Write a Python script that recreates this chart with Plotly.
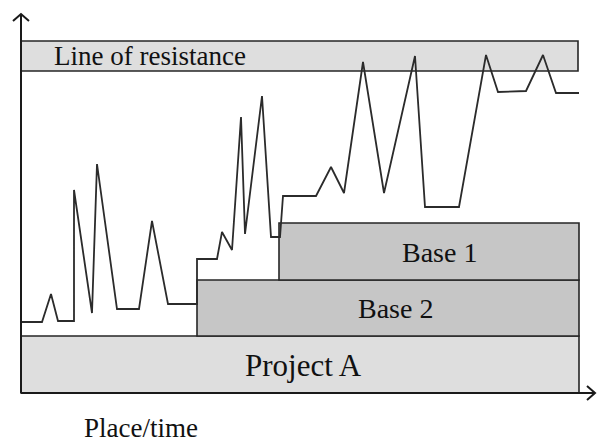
import plotly.graph_objects as go

# ---- data (place/time units, level units; origin at axes corner) ----
t = [0, 21, 30, 37, 53, 53, 71, 76, 96, 118, 131, 147, 176, 176, 196, 201, 211, 220,
     224, 241, 250, 259, 262, 295, 310, 323, 342, 363, 394, 404, 438, 465, 477, 505,
     522, 535, 558]
level = [71, 71, 99, 72, 72, 203, 80, 229, 84, 84, 172, 89, 89, 134, 134, 161, 143, 276,
         159, 297, 156, 156, 197, 197, 226, 200, 331, 200, 337, 186, 186, 338, 301, 302,
         338, 300, 300]

band_names = ["Project A", "Base 2", "Base 1", "Line of resistance"]
band_start = [0, 176, 258, 0]
band_end = [558, 558, 558, 557]
band_low = [0, 57, 113, 322]
band_high = [57, 113, 170, 352]
band_colors = ["#dedede", "#c6c6c6", "#c6c6c6", "#dedede"]

fig = go.Figure()

shapes = []
for x0, x1, y0, y1, c in zip(band_start, band_end, band_low, band_high, band_colors):
    shapes.append(dict(type="rect", x0=x0, x1=x1, y0=y0, y1=y1, xref="x", yref="y",
                       fillcolor=c, line=dict(color="#262626", width=1.6), layer="below"))

# axes with open arrowheads
axis_line = dict(color="#1a1a1a", width=2)
shapes += [
    dict(type="line", x0=0, y0=0, x1=0, y1=379, line=axis_line),
    dict(type="line", x0=0, y0=0, x1=574, y1=0, line=axis_line),
    dict(type="path", path="M -8,372 L 0,379 L 8,372", line=axis_line),
    dict(type="path", path="M 566,7 L 574,0 L 566,-7", line=axis_line),
]

fig.add_trace(go.Scatter(x=t, y=level, mode="lines",
                         line=dict(color="#2b2b2b", width=1.8), hoverinfo="skip",
                         showlegend=False))

font = dict(family="Liberation Serif, Times New Roman, serif", color="#111111")
annos = [
    dict(text="Line of resistance", x=129, y=337, size=27),
    dict(text="Base 1", x=418, y=141, size=28),
    dict(text="Base 2", x=374, y=85, size=28),
    dict(text="Project A", x=282, y=28, size=31),
    dict(text="Place/time", x=120, y=-35, size=27),
]
fig.update_layout(
    annotations=[dict(text=a["text"], x=a["x"], y=a["y"], xref="x", yref="y",
                      showarrow=False, font=dict(size=a["size"], **font))
                 for a in annos],
    shapes=shapes,
    width=597, height=444,
    margin=dict(l=0, r=0, t=0, b=0),
    paper_bgcolor="white", plot_bgcolor="white",
    xaxis=dict(range=[-21, 576], visible=False, fixedrange=True),
    yaxis=dict(range=[-51, 393], visible=False, fixedrange=True),
)

fig.write_html("out.html",
               config={"displayModeBar": False, "staticPlot": True},
               post_script="document.body.style.margin='0';"
                           "document.body.style.overflow='hidden';")
